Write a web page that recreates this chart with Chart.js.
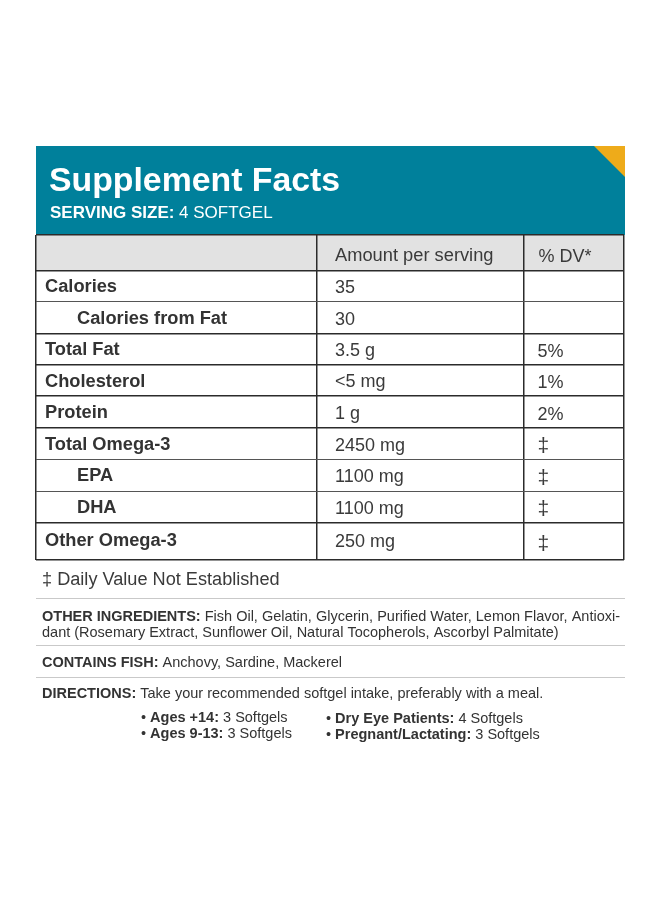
<!DOCTYPE html>
<html><head><meta charset="utf-8">
<style>html,body{margin:0;padding:0;background:#fff}canvas{display:block}</style>
<script src="https://cdn.jsdelivr.net/npm/chart.js@4"></script></head>
<body><canvas id="c" width="660" height="904"></canvas>
<script>
// ---- content ----
const title = "Supplement Facts";
const servingLabel = "SERVING SIZE:";
const servingValue = " 4 SOFTGEL";
const columnHeaders = ["", "Amount per serving", "% DV*"];
const rowNames = ["Calories","Calories from Fat","Total Fat","Cholesterol","Protein","Total Omega-3","EPA","DHA","Other Omega-3"];
const rowIndented = [false,true,false,false,false,false,true,true,false];
const amounts = ["35","30","3.5 g","<5 mg","1 g","2450 mg","1100 mg","1100 mg","250 mg"];
const dailyValues = ["","","5%","1%","2%","‡","‡","‡","‡"];
const note = "‡ Daily Value Not Established";
const ingredients = [[["OTHER INGREDIENTS:",1],[" Fish Oil, Gelatin, Glycerin, Purified Water, Lemon Flavor, Antioxi-",0]],
                     [["dant (Rosemary Extract, Sunflower Oil, Natural Tocopherols, Ascorbyl Palmitate)",0]]];
const contains = [["CONTAINS FISH:",1],[" Anchovy, Sardine, Mackerel",0]];
const directions = [["DIRECTIONS:",1],[" Take your recommended softgel intake, preferably with a meal.",0]];
const dosesLeft = [[["• ",0],["Ages +14:",1],[" 3 Softgels",0]],[["• ",0],["Ages 9-13:",1],[" 3 Softgels",0]]];
const dosesRight = [[["• ",0],["Dry Eye Patients:",1],[" 4 Softgels",0]],[["• ",0],["Pregnant/Lactating:",1],[" 3 Softgels",0]]];

// ---- layout ----
const rowEdges = [0,35.5,67,98.5,130,161.5,193.2,225,256.5,288,325.5];
const colEdges = [0,281,487.5,588];
const heavyRows = [35.5,98.5,130,161.5,193.2,288,325.5,0];
const FONT = '"Liberation Sans", Arial, sans-serif';
const INK = "#333333";

function runs(ctx,x,y,parts,size){
  ctx.textAlign="left";ctx.textBaseline="alphabetic";
  parts.forEach(([t,b])=>{
    ctx.font=(b?"bold ":"")+size+"px "+FONT;
    ctx.fillText(t,x,y);
    x+=ctx.measureText(t).width;
  });
}
const sheet = {
  id:"sheet",
  beforeDraw(chart){
    const {ctx,scales:{x,y}}=chart;
    ctx.save();
    ctx.fillStyle="#ffffff";ctx.fillRect(0,0,660,904);
    ctx.fillStyle="#00809b";ctx.fillRect(36,146,589,89);
    ctx.fillStyle="#eeab1a";
    ctx.beginPath();ctx.moveTo(594,146);ctx.lineTo(625,146);ctx.lineTo(625,177);ctx.closePath();ctx.fill();
    ctx.fillStyle="#e2e2e2";
    ctx.fillRect(x.getPixelForValue(0),y.getPixelForValue(0),x.getPixelForValue(588)-x.getPixelForValue(0),y.getPixelForValue(35.5)-y.getPixelForValue(0));
    ctx.restore();
  },
  afterDraw(chart){
    const {ctx,scales:{x,y}}=chart;
    ctx.save();
    // banner
    ctx.fillStyle="#ffffff";
    runs(ctx,49,190.5,[[title,1]],33.8);
    runs(ctx,50,218,[[servingLabel,1],[servingValue,0]],17);
    // table head
    ctx.fillStyle="#3a3a3a";
    ctx.textBaseline="middle";ctx.textAlign="left";
    ctx.font="18.3px "+FONT;
    ctx.fillText(columnHeaders[1],x.getPixelForValue(colEdges[1])+18,y.getPixelForValue(17.75)+3);
    ctx.font="18px "+FONT;
    ctx.fillText(columnHeaders[2],x.getPixelForValue(colEdges[2])+15,y.getPixelForValue(17.75)+4);
    // row names from the row scale
    rowNames.forEach((n,i)=>{
      const c=(rowEdges[i+1]+rowEdges[i+2])/2;
      ctx.font="bold 18.25px "+FONT;
      ctx.fillStyle=INK;
      ctx.fillText(n,x.getPixelForValue(0)+(rowIndented[i]?41:9),y.getPixelForValue(c)+(i===8?-0.5:1));
    });
    // values through the datasets
    chart.data.datasets.forEach((ds,di)=>{
      const meta=chart.getDatasetMeta(di);
      meta.data.forEach((pt,i)=>{
        const t=ds.cellText[i]; if(!t) return;
        ctx.font=(t==="‡"?"21px ":"18px ")+FONT;ctx.fillStyle="#3a3a3a";
        ctx.fillText(t,pt.x+(di?14:18),pt.y+(di?2.5:(i===8?1:2)));
      });
    });
    // notes
    ctx.fillStyle="#3a3a3a";
    runs(ctx,42,585,[[note,0]],18.15);
    ctx.fillStyle="#c9c9c9";
    [598,645,677].forEach(v=>ctx.fillRect(36,v,589,1));
    ctx.fillStyle=INK;
    runs(ctx,42,621,ingredients[0],14.5);
    runs(ctx,42,637,ingredients[1],14.5);
    runs(ctx,42,667,contains,14.5);
    runs(ctx,42,698,directions,14.5);
    dosesLeft.forEach((p,i)=>runs(ctx,141,722+i*16,p,14.5));
    dosesRight.forEach((p,i)=>runs(ctx,326,723+i*16,p,14.5));
    ctx.restore();
  }
};
new Chart(document.getElementById("c"),{
  type:"scatter",
  data:{datasets:[
    {label:"Amount per serving",cellText:amounts,pointRadius:0,
     data:amounts.map((_,i)=>({x:colEdges[1],y:(rowEdges[i+1]+rowEdges[i+2])/2}))},
    {label:"% DV",cellText:dailyValues,pointRadius:0,
     data:dailyValues.map((_,i)=>({x:colEdges[2],y:(rowEdges[i+1]+rowEdges[i+2])/2}))}
  ]},
  options:{
    responsive:false,animation:false,devicePixelRatio:1,
    layout:{padding:{left:36,top:235,right:36,bottom:344}},
    plugins:{legend:{display:false},tooltip:{enabled:false},title:{display:false}},
    scales:{
      x:{type:"linear",min:0,max:588,
         afterBuildTicks(a){a.ticks=colEdges.map(v=>({value:v}))},
         ticks:{display:false},border:{display:false},
         grid:{drawTicks:false,color:"#2b2b2b",lineWidth:1.5}},
      y:{type:"linear",reverse:true,min:0,max:325.5,
         afterBuildTicks(a){a.ticks=rowEdges.map(v=>({value:v}))},
         ticks:{display:false},border:{display:false},
         grid:{drawTicks:false,
               color:c=>heavyRows.includes(c.tick.value)?"#2b2b2b":"#555555",
               lineWidth:c=>heavyRows.includes(c.tick.value)?1.6:1}}
    }
  },
  plugins:[sheet]
});
</script></body></html>
